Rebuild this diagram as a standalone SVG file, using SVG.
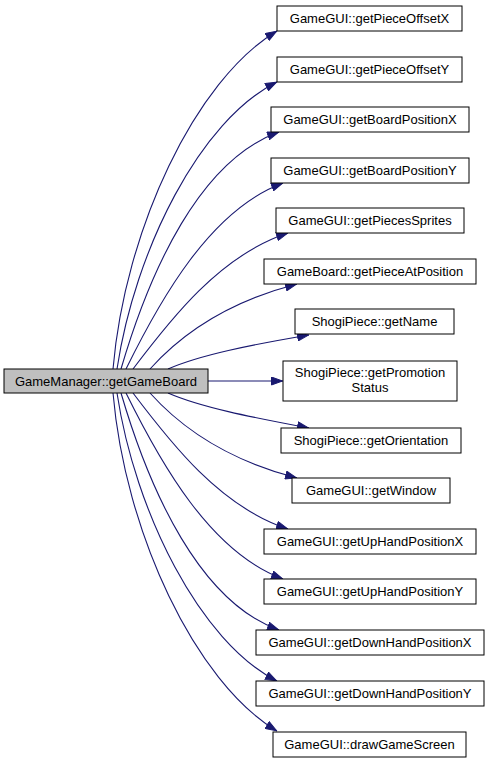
<svg xmlns="http://www.w3.org/2000/svg" width="489" height="763" viewBox="0 0 489 763">
<style>
.n rect{fill:#ffffff;stroke:#000000;stroke-width:1}
.m rect{fill:#bfbfbf;stroke:#000000;stroke-width:1}
text{font-family:"Liberation Sans",Arial,sans-serif;font-size:13px;fill:#000;text-anchor:middle}
.e path{fill:none;stroke:#191970;stroke-width:1.1;marker-end:url(#ah)}
</style>
<defs>
<marker id="ah" viewBox="0 0 12 9" refX="12" refY="4.5" markerWidth="12" markerHeight="9" markerUnits="userSpaceOnUse" orient="auto">
<path d="M0.5,0.5 L11.5,4.5 L0.5,8.5 Z" fill="#191970" stroke="#191970" stroke-width="1"/>
</marker>
</defs>
<rect x="0" y="0" width="489" height="763" fill="#ffffff"/>
<g id="edges" class="e">
<path d="M113,369 C125,230 195,80 277,31"/>
<path d="M117,369 C135,250 200,120 277,82"/>
<path d="M121,369 C150,270 200,160 279,132"/>
<path d="M126,369 C160,300 210,210 283,183"/>
<path d="M133,369 C170,320 220,255 288,233"/>
<path d="M150,369 C185,330 235,300 297,284"/>
<path d="M168,369 C200,355 250,345 309,335"/>
<path d="M208,381 L283,381"/>
<path d="M168,393 C200,407 250,417 309,428"/>
<path d="M150,393 C185,432 235,462 297,478"/>
<path d="M133,393 C170,442 220,507 288,529"/>
<path d="M126,393 C160,462 210,552 283,579"/>
<path d="M121,393 C150,492 200,602 279,630"/>
<path d="M117,393 C135,512 200,642 277,681"/>
<path d="M113,393 C125,532 195,682 277,731"/>
</g>
<g id="main" class="m"><rect x="4" y="369" width="204" height="24"/><text x="106" y="385.5">GameManager::getGameBoard</text></g>
<g id="n1" class="n"><rect x="277" y="6" width="185" height="25"/><text x="369.5" y="23">GameGUI::getPieceOffsetX</text></g>
<g id="n2" class="n"><rect x="277" y="57" width="185" height="25"/><text x="369.5" y="74">GameGUI::getPieceOffsetY</text></g>
<g id="n3" class="n"><rect x="271" y="107" width="198" height="25"/><text x="370" y="124">GameGUI::getBoardPositionX</text></g>
<g id="n4" class="n"><rect x="271" y="158" width="198" height="25"/><text x="370" y="175">GameGUI::getBoardPositionY</text></g>
<g id="n5" class="n"><rect x="276" y="208" width="188" height="25"/><text x="370" y="225">GameGUI::getPiecesSprites</text></g>
<g id="n6" class="n"><rect x="264" y="259" width="212" height="25"/><text x="370" y="276">GameBoard::getPieceAtPosition</text></g>
<g id="n7" class="n"><rect x="295" y="309" width="159" height="25"/><text x="374.5" y="326">ShogiPiece::getName</text></g>
<g id="n8" class="n"><rect x="283" y="361" width="174" height="40"/><text x="370" y="377">ShogiPiece::getPromotion</text><text x="370" y="392">Status</text></g>
<g id="n9" class="n"><rect x="281" y="428" width="180" height="25"/><text x="371" y="445">ShogiPiece::getOrientation</text></g>
<g id="n10" class="n"><rect x="292" y="478" width="158" height="25"/><text x="371" y="495">GameGUI::getWindow</text></g>
<g id="n11" class="n"><rect x="264" y="529" width="212" height="25"/><text x="370" y="546">GameGUI::getUpHandPositionX</text></g>
<g id="n12" class="n"><rect x="264" y="579" width="212" height="25"/><text x="370" y="596">GameGUI::getUpHandPositionY</text></g>
<g id="n13" class="n"><rect x="256" y="630" width="228" height="25"/><text x="370" y="647">GameGUI::getDownHandPositionX</text></g>
<g id="n14" class="n"><rect x="256" y="681" width="228" height="25"/><text x="370" y="698">GameGUI::getDownHandPositionY</text></g>
<g id="n15" class="n"><rect x="273" y="732" width="193" height="25"/><text x="369.5" y="749">GameGUI::drawGameScreen</text></g>
</svg>
